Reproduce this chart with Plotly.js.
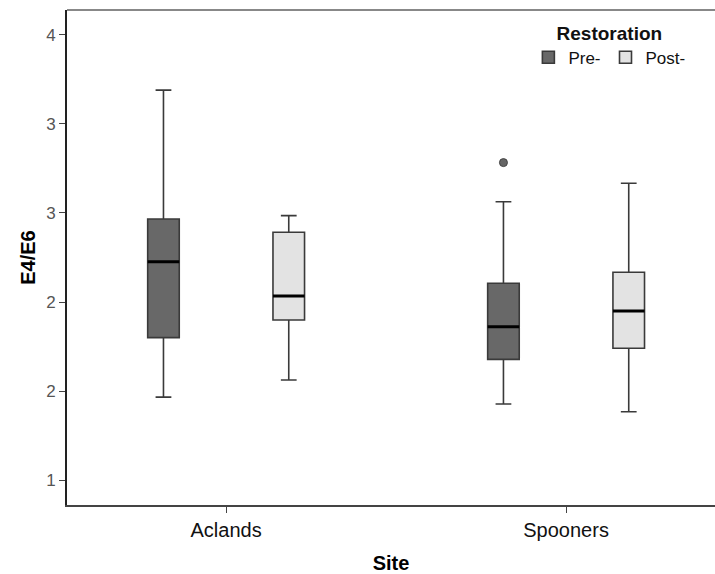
<!DOCTYPE html>
<html>
<head>
<meta charset="utf-8">
<script src="https://cdn.plot.ly/plotly-3.0.1.min.js"></script>
<style>html,body{margin:0;padding:0;background:#fff;}#chart{width:715px;height:574px;}</style>
</head>
<body>
<div id="chart"></div>
<script>
// Categories and series
const sites = ["Aclands", "Spooners"];
const groupNames = ["Pre-", "Post-"];

const preLower  = [1.966, 1.927];
const preQ1     = [2.300, 2.178];
const preMedian = [2.726, 2.361];
const preQ3     = [2.966, 2.605];
const preUpper  = [3.690, 3.063];

const postLower  = [2.062, 1.884];
const postQ1     = [2.399, 2.240];
const postMedian = [2.534, 2.449];
const postQ3     = [2.892, 2.667];
const postUpper  = [2.985, 3.167];

// Outliers (Pre- group)
const outlierSite  = ["Spooners"];
const outlierValue = [3.283];

const yTickVals = [1.5, 2.0, 2.5, 3.0, 3.5, 4.0];
const yTickText = ["1", "2", "2", "3", "3", "4"];

const FONT = "Liberation Sans, Arial, sans-serif";
const BOXGAP = 0.263, BOXGROUPGAP = 0.748;
const XRANGE = [-0.468, 1.438];

function boxTrace(name, group, lf, q1, med, q3, uf, fill) {
  return {
    type: "box",
    name: name,
    offsetgroup: group,
    x: sites,
    lowerfence: lf, q1: q1, median: med, q3: q3, upperfence: uf,
    boxpoints: false,
    fillcolor: fill,
    line: {color: "#3a3a3a", width: 1.6},
    whiskerwidth: 0.5,
    hoverinfo: "skip"
  };
}

// thick median bar drawn as a collapsed box in the same offset group
function medianTrace(group, med) {
  return {
    type: "box",
    offsetgroup: group,
    x: sites,
    lowerfence: med, q1: med, median: med, q3: med, upperfence: med,
    boxpoints: false,
    fillcolor: "rgba(0,0,0,0)",
    line: {color: "#000000", width: 3},
    whiskerwidth: 0,
    showlegend: false,
    hoverinfo: "skip"
  };
}

// position of the Pre- box inside its category (same rule as boxmode "group")
const preOffset = -(1 - BOXGAP) / 4;

const data = [
  boxTrace(groupNames[0], "pre", preLower, preQ1, preMedian, preQ3, preUpper, "#686868"),
  boxTrace(groupNames[1], "post", postLower, postQ1, postMedian, postQ3, postUpper, "#e3e3e3"),
  medianTrace("pre", preMedian),
  medianTrace("post", postMedian),
  {
    type: "scatter", mode: "markers",
    xaxis: "x2", yaxis: "y",
    x: outlierSite.map(s => sites.indexOf(s) + preOffset),
    y: outlierValue,
    marker: {color: "#666666", size: 8, line: {color: "#444444", width: 1}},
    showlegend: false, hoverinfo: "skip"
  }
];

const layout = {
  width: 715, height: 574,
  margin: {l: 67, r: 0, t: 10, b: 69},
  paper_bgcolor: "#ffffff",
  plot_bgcolor: "#ffffff",
  boxmode: "group",
  boxgap: BOXGAP,
  boxgroupgap: BOXGROUPGAP,
  font: {family: FONT, color: "#000"},
  showlegend: true,
  legend: {
    orientation: "h",
    x: 0.712, xanchor: "left",
    y: 0.99, yanchor: "top",
    bgcolor: "rgba(0,0,0,0)",
    font: {family: FONT, size: 17, color: "#111"},
    title: {text: "<b>Restoration</b>", side: "top center", font: {family: FONT, size: 19, color: "#111"}},
    itemwidth: 30,
    traceorder: "normal"
  },
  xaxis: {
    type: "category",
    categoryarray: sites,
    range: XRANGE,
    showgrid: false,
    zeroline: false,
    showline: true,
    linecolor: "#444444",
    linewidth: 2,
    ticks: "outside",
    ticklen: 6,
    tickcolor: "#444444",
    tickfont: {family: FONT, size: 20, color: "#111"},
    title: {text: "<b>Site</b>", font: {family: FONT, size: 20, color: "#000"}, standoff: 16}
  },
  xaxis2: {
    overlaying: "x",
    type: "linear",
    range: XRANGE,
    visible: false,
    showgrid: false,
    zeroline: false
  },
  yaxis: {
    range: [1.36, 4.14],
    tickmode: "array",
    tickvals: yTickVals,
    ticktext: yTickText,
    showgrid: false,
    zeroline: false,
    showline: true,
    linecolor: "#222222",
    linewidth: 2,
    ticks: "outside",
    ticklen: 6,
    tickcolor: "#444444",
    tickfont: {family: FONT, size: 17, color: "#555555"},
    title: {text: "<b>E4/E6</b>", font: {family: FONT, size: 20, color: "#000"}, standoff: 5}
  },
  shapes: [
    {type: "line", xref: "paper", yref: "paper", x0: 0, x1: 1, y0: 1, y1: 1,
     line: {color: "#888888", width: 2}}
  ]
};

Plotly.newPlot("chart", data, layout, {staticPlot: true, displayModeBar: false});
</script>
</body>
</html>
